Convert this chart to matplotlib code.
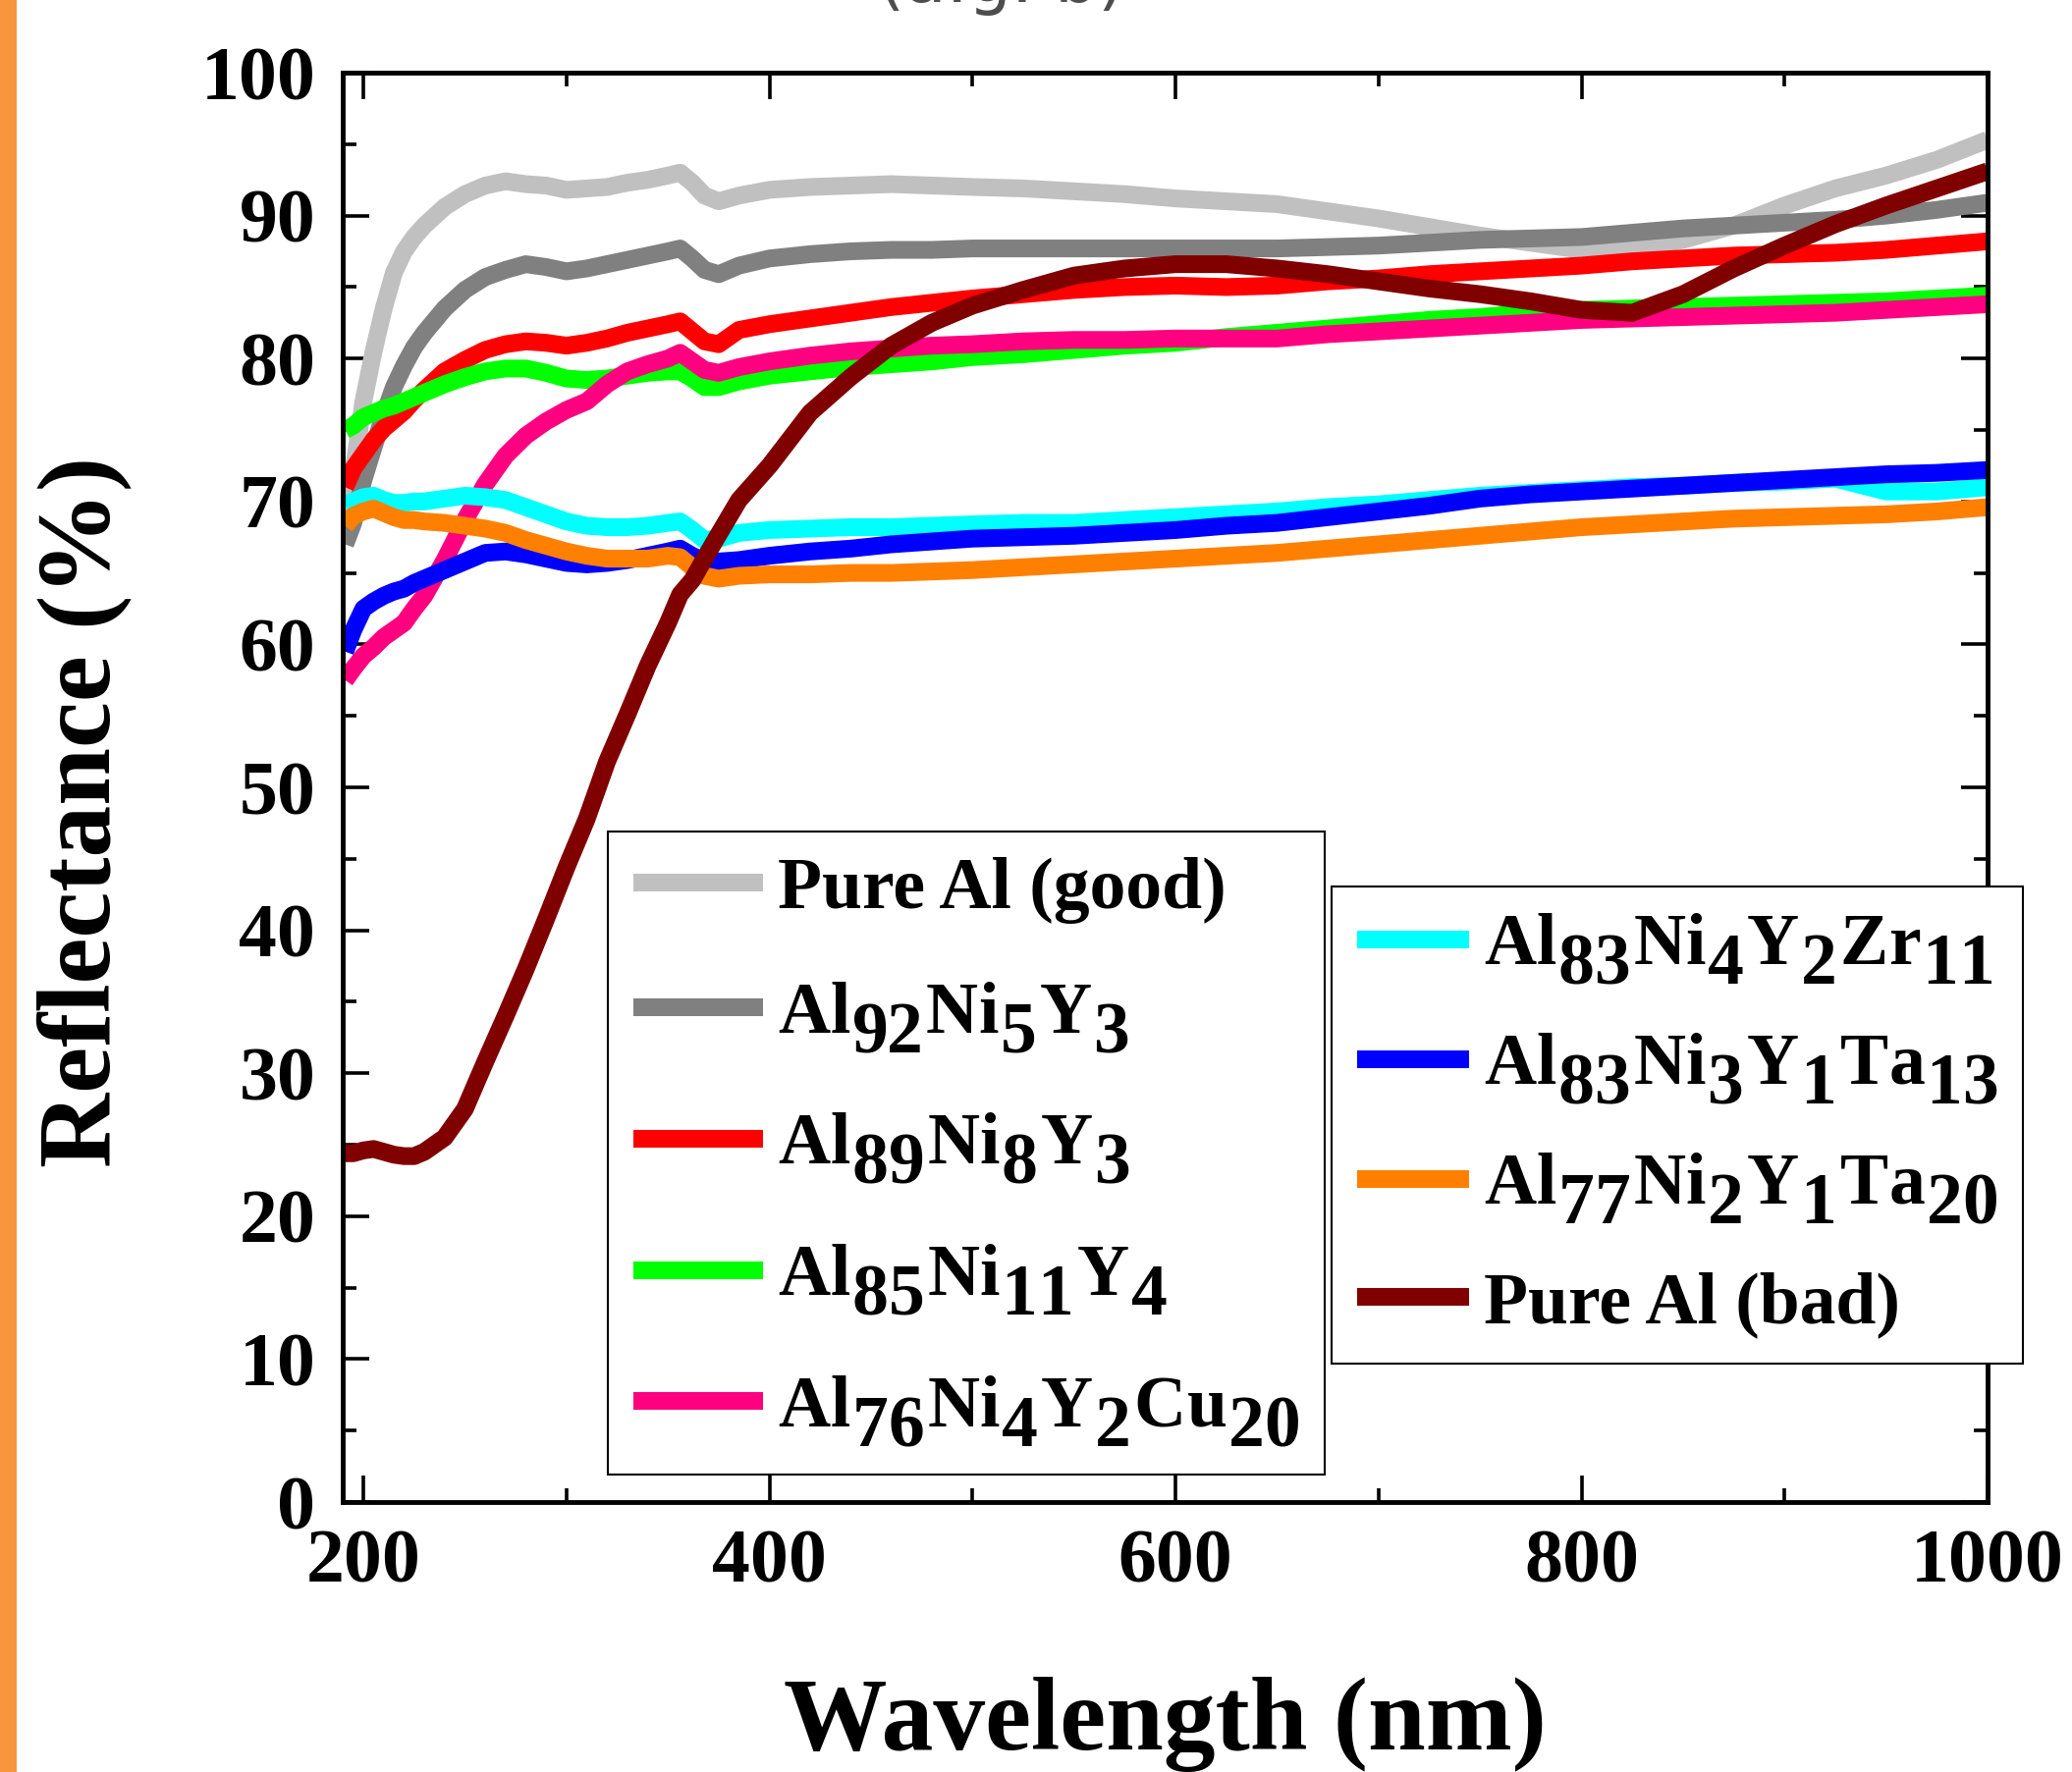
"""Reflectance spectra of pure Al and Al-Ni-Y based alloy films."""

import matplotlib

matplotlib.use("Agg")
import matplotlib._mathtext as mathtext_internals
import matplotlib.pyplot as plt
from matplotlib.patches import Rectangle
from matplotlib.ticker import MultipleLocator

# Origin-style labels: subscripts keep the full text size, only lowered
mathtext_internals.NUM_SIZE_LEVELS = 0

plt.rcParams["font.family"] = ["Liberation Serif", "DejaVu Serif"]
plt.rcParams["font.weight"] = "bold"
plt.rcParams["axes.labelweight"] = "bold"
plt.rcParams["mathtext.fontset"] = "custom"
plt.rcParams["mathtext.rm"] = "Liberation Serif:bold"
plt.rcParams["mathtext.it"] = "Liberation Serif:bold"
plt.rcParams["mathtext.bf"] = "Liberation Serif:bold"

wavelength = [191, 195, 200, 205, 210, 215, 220, 225, 230, 240, 250, 260, 270, 280,
              290, 300, 310, 320, 330, 340, 350, 356, 362, 368, 375, 385, 400, 420,
              440, 460, 480, 500, 525, 550, 575, 600, 625, 650, 675, 700, 725, 750,
              775, 800, 825, 850, 875, 900, 925, 950, 975, 1000]

pure_al_good = [67.0, 72.0, 77.0, 80.5, 83.5, 86.0, 87.5, 88.5, 89.3, 90.6, 91.5, 92.1,
                92.4, 92.2, 92.1, 91.8, 91.9, 92.0, 92.3, 92.5, 92.8, 93.0, 92.3, 91.4,
                91.0, 91.4, 91.8, 92.0, 92.1, 92.2, 92.1, 92.0, 91.9, 91.7, 91.5, 91.2,
                91.0, 90.8, 90.3, 89.8, 89.2, 88.6, 88.1, 87.6, 87.6, 88.3, 89.3, 90.7,
                91.9, 92.8, 93.9, 95.3]
al92 = [67.0, 68.5, 71.5, 73.8, 76.0, 78.0, 79.5, 80.8, 81.8, 83.5, 84.8, 85.7, 86.2,
        86.6, 86.4, 86.1, 86.3, 86.6, 86.9, 87.2, 87.5, 87.7, 87.0, 86.2, 85.9, 86.5,
        87.0, 87.3, 87.5, 87.6, 87.6, 87.7, 87.7, 87.7, 87.7, 87.7, 87.7, 87.7, 87.8,
        87.9, 88.1, 88.3, 88.4, 88.5, 88.8, 89.1, 89.3, 89.5, 89.7, 90.0, 90.4, 90.9]
al89 = [71.0, 72.3, 73.3, 74.3, 75.1, 75.7, 76.3, 77.1, 77.8, 79.1, 79.9, 80.6, 81.0,
        81.2, 81.1, 80.9, 81.1, 81.4, 81.8, 82.1, 82.4, 82.6, 81.9, 81.2, 81.0, 82.0,
        82.4, 82.8, 83.2, 83.6, 83.9, 84.2, 84.5, 84.8, 85.0, 85.1, 85.0, 85.1, 85.4,
        85.6, 85.9, 86.1, 86.3, 86.5, 86.8, 87.0, 87.2, 87.3, 87.4, 87.6, 87.9, 88.2]
al85 = [75.0, 75.3, 75.9, 76.2, 76.5, 76.7, 77.0, 77.3, 77.6, 78.2, 78.7, 79.1, 79.3,
        79.3, 79.0, 78.6, 78.5, 78.6, 78.8, 79.0, 79.1, 79.1, 78.6, 78.0, 78.0, 78.4,
        78.8, 79.1, 79.4, 79.6, 79.8, 80.1, 80.3, 80.6, 80.9, 81.1, 81.5, 81.8, 82.1,
        82.4, 82.7, 82.9, 83.2, 83.4, 83.5, 83.6, 83.7, 83.8, 83.9, 84.0, 84.2, 84.4]
al76_cu = [57.5, 58.3, 59.2, 59.8, 60.5, 61.0, 61.5, 62.5, 63.4, 65.9, 68.7, 71.2, 73.2,
           74.6, 75.6, 76.4, 77.0, 78.2, 79.1, 79.6, 80.0, 80.4, 79.8, 79.2, 79.0, 79.4,
           79.8, 80.2, 80.5, 80.7, 80.9, 81.0, 81.2, 81.3, 81.3, 81.4, 81.4, 81.4, 81.7,
           81.9, 82.1, 82.3, 82.5, 82.7, 82.8, 82.9, 83.0, 83.1, 83.2, 83.4, 83.6, 83.8]
al83_zr = [69.8, 70.0, 70.3, 70.4, 70.1, 69.9, 69.9, 70.0, 70.0, 70.2, 70.4, 70.3, 70.1,
           69.6, 69.1, 68.6, 68.3, 68.2, 68.2, 68.3, 68.5, 68.6, 68.0, 67.3, 67.4, 67.8,
           68.0, 68.1, 68.2, 68.2, 68.3, 68.4, 68.5, 68.5, 68.7, 68.9, 69.1, 69.3, 69.6,
           69.8, 70.1, 70.4, 70.6, 70.8, 71.0, 71.1, 71.3, 71.4, 71.6, 70.7, 70.7, 71.0]
al83_ta = [59.5, 61.0, 62.5, 63.0, 63.4, 63.7, 63.9, 64.3, 64.6, 65.2, 65.8, 66.4, 66.5,
           66.3, 66.0, 65.7, 65.6, 65.7, 65.9, 66.2, 66.5, 66.7, 66.2, 65.8, 65.8, 65.9,
           66.2, 66.5, 66.7, 67.0, 67.2, 67.4, 67.5, 67.6, 67.8, 68.0, 68.3, 68.5, 68.9,
           69.3, 69.7, 70.2, 70.5, 70.7, 70.9, 71.1, 71.3, 71.5, 71.7, 71.9, 72.0, 72.2]
al77_ta = [68.3, 69.0, 69.3, 69.5, 69.2, 68.9, 68.7, 68.7, 68.6, 68.5, 68.3, 68.1, 67.8,
           67.3, 66.9, 66.5, 66.2, 66.0, 66.0, 66.0, 66.2, 66.1, 65.4, 64.8, 64.6, 64.8,
           64.9, 64.9, 65.0, 65.0, 65.1, 65.2, 65.4, 65.6, 65.8, 66.0, 66.2, 66.4, 66.7,
           67.0, 67.3, 67.6, 67.9, 68.2, 68.4, 68.6, 68.8, 68.9, 69.0, 69.1, 69.3, 69.6]
pure_al_bad = [24.4, 24.4, 24.6, 24.7, 24.5, 24.3, 24.2, 24.2, 24.5, 25.5, 27.5, 30.8,
               34.0, 37.3, 40.8, 44.4, 47.8, 51.8, 55.1, 58.5, 61.5, 63.5, 64.5, 66.0,
               67.7, 70.1, 72.5, 76.2, 78.7, 80.9, 82.5, 83.7, 84.8, 85.8, 86.3, 86.6,
               86.6, 86.3, 85.9, 85.4, 84.9, 84.5, 84.0, 83.4, 83.2, 84.5, 86.3, 87.9,
               89.4, 90.7, 91.9, 93.1]

# nested subscripts: lowered twice, full size
series = [
    (pure_al_good, "#C0C0C0", "Pure Al (good)"),
    (al92, "#808080", r"Al$_{_{92}}$Ni$_{_{5}}$Y$_{_{3}}$"),
    (al89, "#FF0000", r"Al$_{_{89}}$Ni$_{_{8}}$Y$_{_{3}}$"),
    (al85, "#00FF00", r"Al$_{_{85}}$Ni$_{_{11}}$Y$_{_{4}}$"),
    (al76_cu, "#FF0080", r"Al$_{_{76}}$Ni$_{_{4}}$Y$_{_{2}}$Cu$_{_{20}}$"),
    (al83_zr, "#00FFFF", r"Al$_{_{83}}$Ni$_{_{4}}$Y$_{_{2}}$Zr$_{_{11}}$"),
    (al83_ta, "#0000FF", r"Al$_{_{83}}$Ni$_{_{3}}$Y$_{_{1}}$Ta$_{_{13}}$"),
    (al77_ta, "#FF8000", r"Al$_{_{77}}$Ni$_{_{2}}$Y$_{_{1}}$Ta$_{_{20}}$"),
    (pure_al_bad, "#800000", "Pure Al (bad)"),
]

W, H = 2110, 1805
fig = plt.figure(figsize=(W / 100, H / 100), dpi=100)
ax = fig.add_axes([349 / W, 1 - 1530 / H, 1675 / W, 1456 / H])

# orange strip along the left edge of the page
fig.patches.append(Rectangle((0, 0), 17 / W, 1, transform=fig.transFigure,
                             facecolor="#F8963E", edgecolor="none"))
# caption of the page above, cut off by the crop
fig.text(1020 / W, 1 - 16 / H, "(a.g. b)", ha="center", va="bottom", fontsize=50,
         family="DejaVu Sans", weight="normal", color="0.3")

lines = []
for values, color, label in series:
    (line,) = ax.plot(wavelength, values, color=color, linewidth=13,
                      solid_capstyle="butt", solid_joinstyle="round", label=label)
    lines.append(line)

ax.set_xlim(189.8, 1000)
ax.set_ylim(0, 100)
ax.xaxis.set_major_locator(MultipleLocator(200))
ax.xaxis.set_minor_locator(MultipleLocator(100))
ax.yaxis.set_major_locator(MultipleLocator(10))
ax.yaxis.set_minor_locator(MultipleLocator(5))
ax.tick_params(which="both", direction="in", top=True, right=True, width=2.6,
               labelsize=56, pad=20)
ax.tick_params(which="major", length=19.5)
ax.tick_params(which="minor", length=10)
for spine in ax.spines.values():
    spine.set_linewidth(3.5)

ax.set_xlabel("Wavelength (nm)", fontsize=76)
ax.xaxis.set_label_coords(0.5, -0.122)
ax.set_ylabel("Reflectance (%)", fontsize=76)
ax.yaxis.set_label_coords(-0.128, 0.483)

legend_style = dict(loc="upper left", bbox_transform=fig.transFigure, borderaxespad=0,
                    frameon=True, fancybox=False, edgecolor="black", framealpha=1,
                    handletextpad=0.2, borderpad=0.35, fontsize=53)
first = ax.legend(lines[:5], [s[2] for s in series[:5]], handlelength=1.8,
                  labelspacing=0.78, bbox_to_anchor=(619 / W, 1 - 847 / H),
                  **legend_style)
first.get_frame().set_linewidth(1.5)
ax.add_artist(first)
second = ax.legend(lines[5:], [s[2] for s in series[5:]], handlelength=1.55,
                   labelspacing=0.62, bbox_to_anchor=(1356 / W, 1 - 903 / H),
                   **legend_style)
second.get_frame().set_linewidth(1.5)

fig.savefig("out.png", dpi=100)
